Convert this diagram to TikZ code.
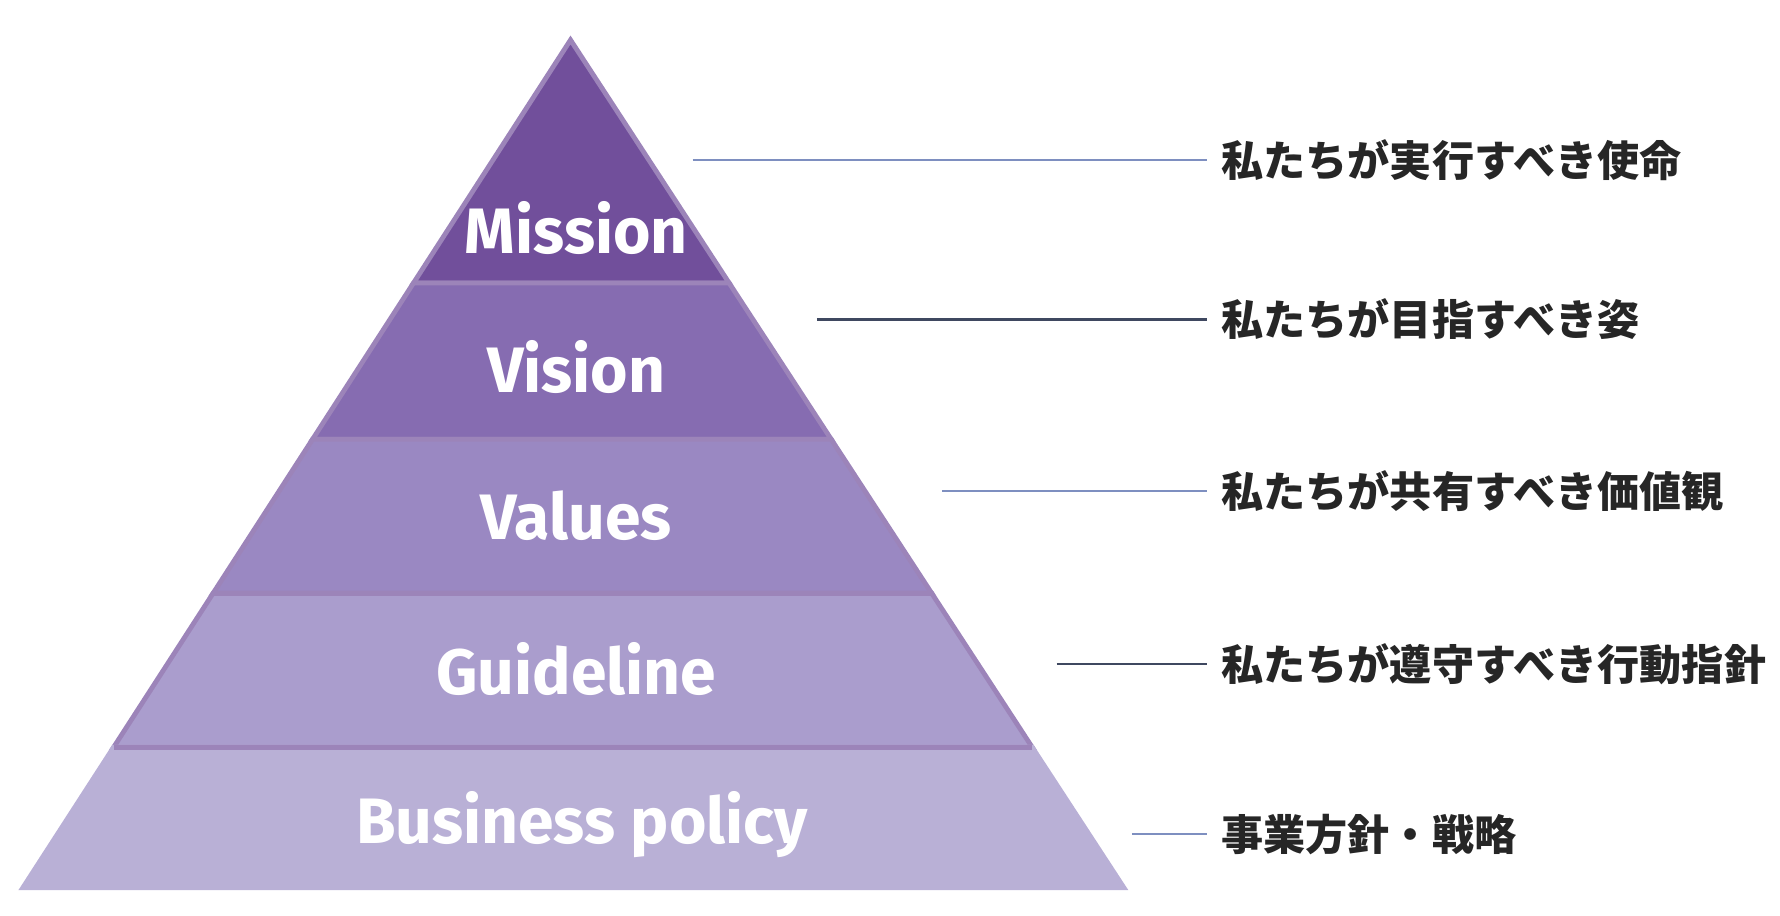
\documentclass[tikz,border=0pt]{standalone}
\usepackage{fontspec}
\setmainfont{Fira Sans}
\newfontfamily\jpfont{Noto Sans CJK JP}
\definecolor{missioncolor}{HTML}{714F9B}
\definecolor{visioncolor}{HTML}{866CB1}
\definecolor{valuescolor}{HTML}{9A88C2}
\definecolor{guidecolor}{HTML}{AA9DCD}
\definecolor{policycolor}{HTML}{B9B0D6}
\definecolor{leadcolor}{HTML}{7E8FC0}
\begin{document}
\begin{tikzpicture}[x=0.01cm, y=-0.01cm,
          band/.style = {draw=white!30!missioncolor, line width=1.2pt},
          level/.style = {text=white, font=\bfseries\fontsize{16}{18}\selectfont},
          lead/.style = {draw=leadcolor, line width=0.5pt},
          aim/.style = {anchor=west, text=black!85, font=\jpfont\bfseries\fontsize{10.5}{12}\selectfont}
          ]
          \useasboundingbox (0,0) rectangle (1560,802);
          % pyramid bands
          \filldraw[band, fill=missioncolor] (500,35) -- (639,248) -- (362.4,248) -- cycle;
          \filldraw[band, fill=visioncolor] (362.4,248) -- (639,248) -- (728.5,385) -- (273.9,385) -- cycle;
          \filldraw[band, fill=valuescolor] (273.9,385) -- (728.5,385) -- (816.6,520) -- (186.7,520) -- cycle;
          \filldraw[band, fill=guidecolor] (186.7,520) -- (816.6,520) -- (904.7,655) -- (99.5,655) -- cycle;
          \filldraw[band, fill=policycolor, draw=policycolor] (99.5,655) -- (904.7,655) -- (985,778) -- (20,778) -- cycle;
          \draw[draw=white!30!missioncolor, line width=1.2pt] (99.5,655) -- (904.7,655);
          \node[level] (mission) at (505,200) {Mission};
          \node[level] (vision) at (505,322) {Vision};
          \node[level] (values) at (505,452) {Values};
          \node[level] (guide) at (505,586) {Guideline};
          \node[level] (policy) at (510,723) {Business policy};
          % right side texts
          \node[aim] (missiontext) at (1058,140) {私たちが実行すべき使命};
          \node[aim] (visiontext) at (1058,280) {私たちが目指すべき姿};
          \node[aim] (valuestext) at (1058,430) {私たちが共有すべき価値観};
          \node[aim] (guidetext) at (1058,582) {私たちが遵守すべき行動指針};
          \node[aim] (policytext) at (1058,731) {事業方針・戦略};
          \coordinate (m) at (607,140);
          \coordinate (v) at (716,280);
          \coordinate (va) at (826,430);
          \coordinate (g) at (926,582);
          \coordinate (p) at (992,731);
          \draw[lead] (m) -- (m -| missiontext.west);
          \draw[lead, draw=black!50!leadcolor] (v) -- (v -| visiontext.west);
          \draw[lead] (va) -- (va -| valuestext.west);
          \draw[lead, draw=black!50!leadcolor] (g) -- (g -| guidetext.west);
          \draw[lead] (p) -- (p -| policytext.west);
\end{tikzpicture}
\end{document}
